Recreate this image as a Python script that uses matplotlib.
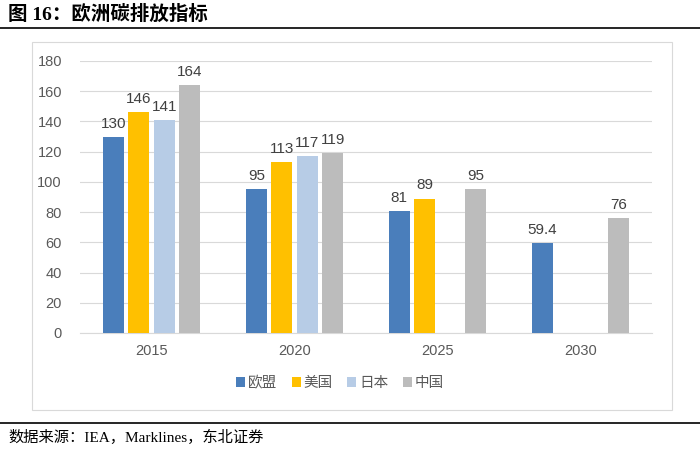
import matplotlib
matplotlib.use("Agg")
import matplotlib.pyplot as plt
from matplotlib.patches import Rectangle
import numpy as np

years = ["2015", "2020", "2025", "2030"]
series = ["欧盟", "美国", "日本", "中国"]
eu = [130, 95, 81, 59.4]
us = [146, 113, 89, None]
jp = [141, 117, None, None]
cn = [164, 119, 95, 76]
colors = ["#4A7EBB", "#FFC000", "#B7CCE6", "#BCBCBC"]
yticks = [0, 20, 40, 60, 80, 100, 120, 140, 160, 180]

plt.rcParams['font.family'] = ['Liberation Sans', 'Noto Sans CJK SC']

fig = plt.figure(figsize=(7, 4.5), dpi=100)

# title and rules
fig.text(8/700, 1-14/450, "图 16：欧洲碳排放指标", fontsize=14, fontweight='bold',
         family=['Liberation Serif', 'Noto Sans CJK SC'], va='center', ha='left')
fig.add_artist(plt.Line2D([0, 1], [1-28/450, 1-28/450], color='black', lw=1.2))
fig.add_artist(plt.Line2D([0, 1], [1-423/450, 1-423/450], color='black', lw=1.2))
fig.text(8/700, 1-437/450, "数据来源：IEA，Marklines，东北证券", fontsize=11,
         family=['Liberation Serif', 'Noto Sans CJK SC'], va='center', ha='left')
# chart box
fig.add_artist(Rectangle((32/700, 1-410/450), 640/700, 368/450, transform=fig.transFigure,
                         fill=False, edgecolor='#D9D9D9', lw=0.8))

ax = fig.add_axes([80/700, 1-333/450, 572/700, 272/450])
x = np.arange(len(years))
w = 0.147
step = 0.178
data = [eu, us, jp, cn]
for i, (name, vals, c) in enumerate(zip(series, data, colors)):
    off = (i - 1.5) * step
    xs = [xx + off for xx, v in zip(x, vals) if v is not None]
    vs = [v for v in vals if v is not None]
    bars = ax.bar(xs, vs, width=w, color=c, label=name, zorder=3)
    for b, v in zip(bars, vs):
        ax.text(b.get_x() + b.get_width()/2, v + 4, f"{v:g}", ha='center', va='bottom',
                fontsize=11, color='#404040')

ax.set_xlim(-0.5, 3.5)
ax.set_ylim(0, 180)
ax.set_yticks(yticks)
ax.set_xticks(x)
ax.set_xticklabels(years)
ax.yaxis.grid(True, color='#D9D9D9', lw=0.8, zorder=0)
for s in ['top', 'right', 'left']:
    ax.spines[s].set_visible(False)
ax.spines['bottom'].set_color('#D9D9D9')
ax.tick_params(axis='both', length=0, labelsize=10.5, colors='#595959', pad=8)
ax.tick_params(axis='y', pad=13)

leg = fig.legend(loc='center', bbox_to_anchor=(340/700, 1-383/450), ncol=4, frameon=False,
                 fontsize=10.5, handlelength=0.6, handleheight=0.6, handletextpad=0.2,
                 columnspacing=1.0)
for t in leg.get_texts():
    t.set_color('#595959')

fig.savefig("out.png", dpi=100)
